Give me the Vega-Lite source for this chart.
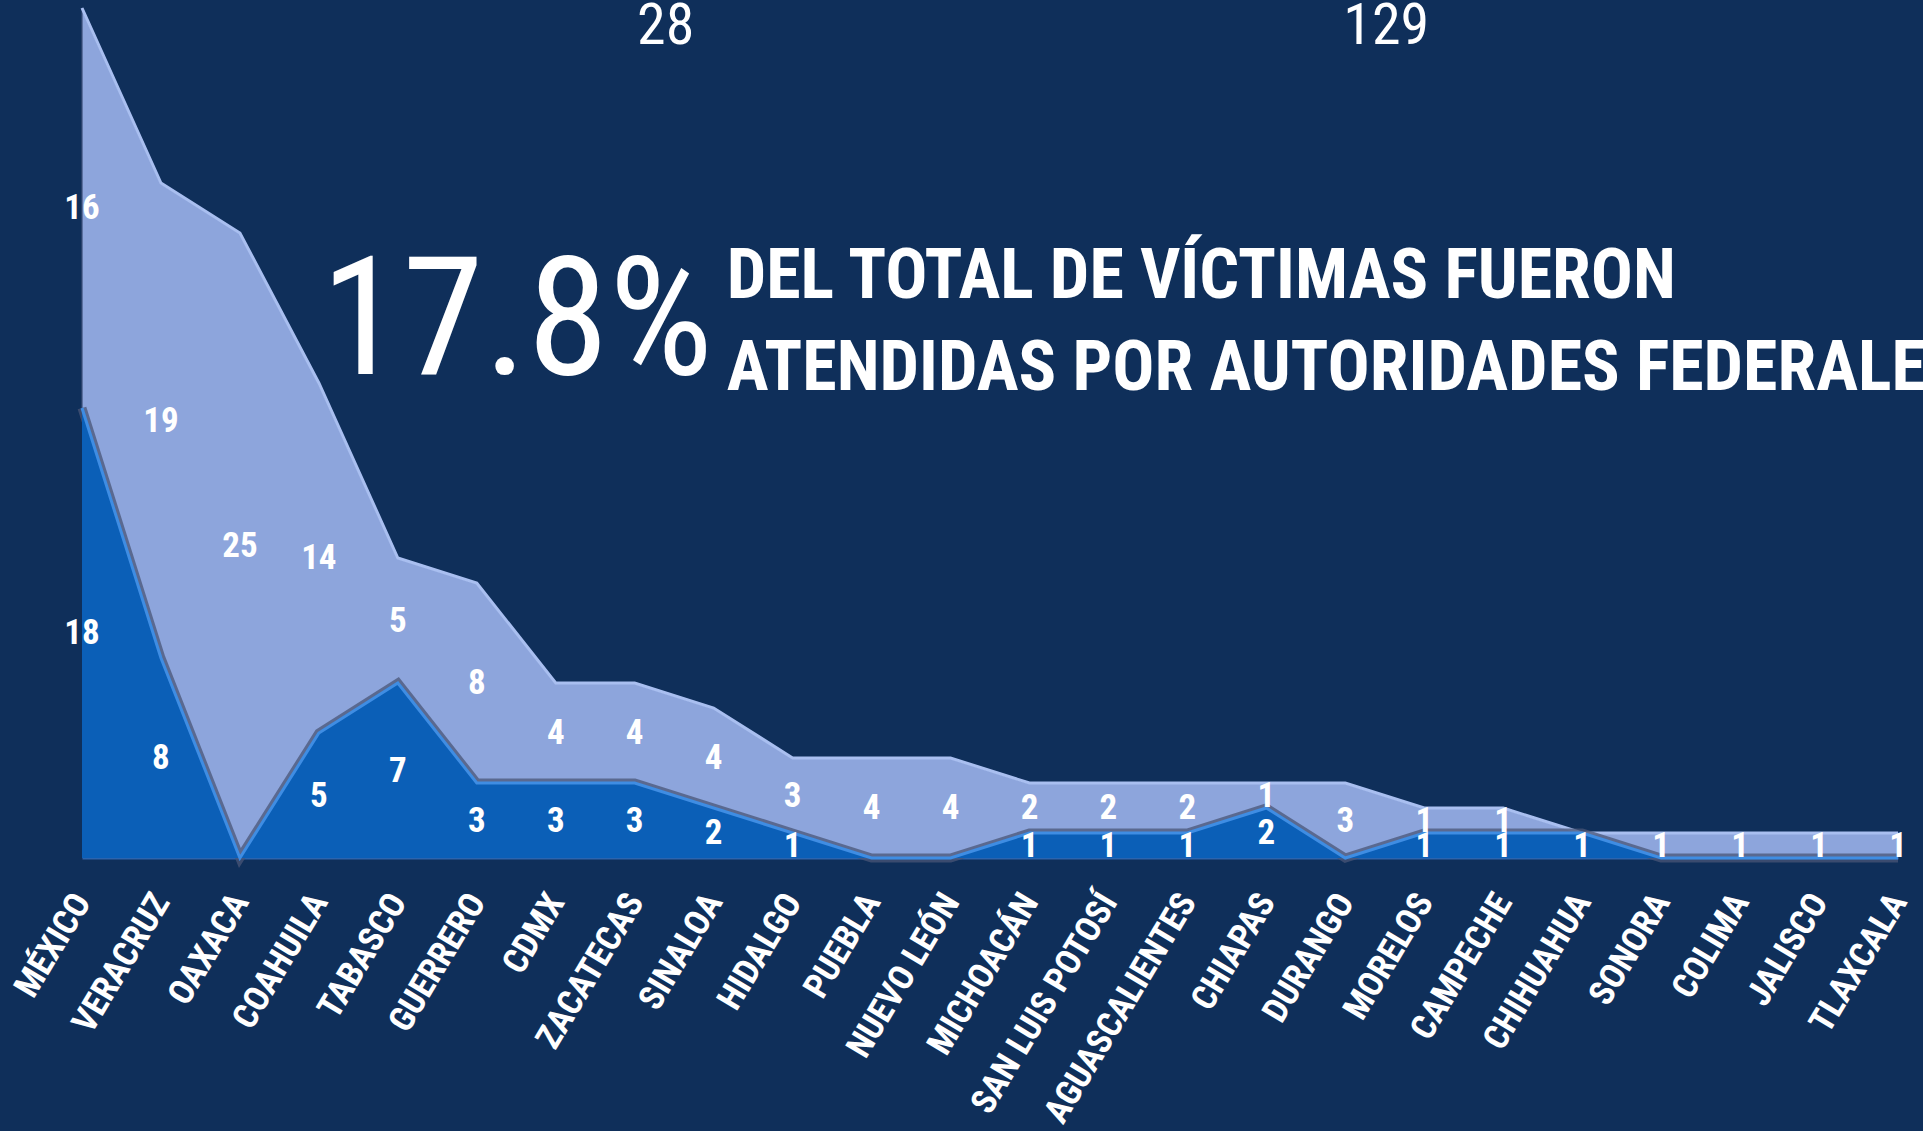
{
  "$schema": "https://vega.github.io/schema/vega-lite/v6.json",
  "width": 1816,
  "height": 850,
  "autosize": {"type": "none"},
  "padding": {"left": 82, "top": 8, "right": 25, "bottom": 273},
  "background": "#0F2F5A",
  "config": {"view": {"stroke": null}},
  "data": {
    "values": [
      {"estado": "MÉXICO", "serie": "Serie1", "valor": 18},
      {"estado": "VERACRUZ", "serie": "Serie1", "valor": 8},
      {"estado": "OAXACA", "serie": "Serie1", "valor": 0},
      {"estado": "COAHUILA", "serie": "Serie1", "valor": 5},
      {"estado": "TABASCO", "serie": "Serie1", "valor": 7},
      {"estado": "GUERRERO", "serie": "Serie1", "valor": 3},
      {"estado": "CDMX", "serie": "Serie1", "valor": 3},
      {"estado": "ZACATECAS", "serie": "Serie1", "valor": 3},
      {"estado": "SINALOA", "serie": "Serie1", "valor": 2},
      {"estado": "HIDALGO", "serie": "Serie1", "valor": 1},
      {"estado": "PUEBLA", "serie": "Serie1", "valor": 0},
      {"estado": "NUEVO LEÓN", "serie": "Serie1", "valor": 0},
      {"estado": "MICHOACÁN", "serie": "Serie1", "valor": 1},
      {"estado": "SAN LUIS POTOSÍ", "serie": "Serie1", "valor": 1},
      {"estado": "AGUASCALIENTES", "serie": "Serie1", "valor": 1},
      {"estado": "CHIAPAS", "serie": "Serie1", "valor": 2},
      {"estado": "DURANGO", "serie": "Serie1", "valor": 0},
      {"estado": "MORELOS", "serie": "Serie1", "valor": 1},
      {"estado": "CAMPECHE", "serie": "Serie1", "valor": 1},
      {"estado": "CHIHUAHUA", "serie": "Serie1", "valor": 1},
      {"estado": "SONORA", "serie": "Serie1", "valor": 0},
      {"estado": "COLIMA", "serie": "Serie1", "valor": 0},
      {"estado": "JALISCO", "serie": "Serie1", "valor": 0},
      {"estado": "TLAXCALA", "serie": "Serie1", "valor": 0},
      {"estado": "MÉXICO", "serie": "Serie2", "valor": 16},
      {"estado": "VERACRUZ", "serie": "Serie2", "valor": 19},
      {"estado": "OAXACA", "serie": "Serie2", "valor": 25},
      {"estado": "COAHUILA", "serie": "Serie2", "valor": 14},
      {"estado": "TABASCO", "serie": "Serie2", "valor": 5},
      {"estado": "GUERRERO", "serie": "Serie2", "valor": 8},
      {"estado": "CDMX", "serie": "Serie2", "valor": 4},
      {"estado": "ZACATECAS", "serie": "Serie2", "valor": 4},
      {"estado": "SINALOA", "serie": "Serie2", "valor": 4},
      {"estado": "HIDALGO", "serie": "Serie2", "valor": 3},
      {"estado": "PUEBLA", "serie": "Serie2", "valor": 4},
      {"estado": "NUEVO LEÓN", "serie": "Serie2", "valor": 4},
      {"estado": "MICHOACÁN", "serie": "Serie2", "valor": 2},
      {"estado": "SAN LUIS POTOSÍ", "serie": "Serie2", "valor": 2},
      {"estado": "AGUASCALIENTES", "serie": "Serie2", "valor": 2},
      {"estado": "CHIAPAS", "serie": "Serie2", "valor": 1},
      {"estado": "DURANGO", "serie": "Serie2", "valor": 3},
      {"estado": "MORELOS", "serie": "Serie2", "valor": 1},
      {"estado": "CAMPECHE", "serie": "Serie2", "valor": 1},
      {"estado": "CHIHUAHUA", "serie": "Serie2", "valor": 0},
      {"estado": "SONORA", "serie": "Serie2", "valor": 1},
      {"estado": "COLIMA", "serie": "Serie2", "valor": 1},
      {"estado": "JALISCO", "serie": "Serie2", "valor": 1},
      {"estado": "TLAXCALA", "serie": "Serie2", "valor": 1}
    ]
  },
  "layer": [
    {
      "transform": [
        {"stack": "valor", "groupby": ["estado"], "sort": [{"field": "serie", "order": "ascending"}], "as": ["y0", "y1"]},
        {"filter": "datum.serie === 'Serie2'"}
      ],
      "mark": {"type": "area", "interpolate": "linear", "color": "#8DA5DC", "stroke": "#3B4F78", "strokeWidth": 2, "strokeOpacity": 0.6},
      "encoding": {
        "x": {
          "field": "estado", "type": "nominal",
          "scale": {"type": "point", "padding": 0, "domain": ["MÉXICO", "VERACRUZ", "OAXACA", "COAHUILA", "TABASCO", "GUERRERO", "CDMX", "ZACATECAS", "SINALOA", "HIDALGO", "PUEBLA", "NUEVO LEÓN", "MICHOACÁN", "SAN LUIS POTOSÍ", "AGUASCALIENTES", "CHIAPAS", "DURANGO", "MORELOS", "CAMPECHE", "CHIHUAHUA", "SONORA", "COLIMA", "JALISCO", "TLAXCALA"]},
          "axis": {
            "title": null, "labelAngle": -59, "labelAlign": "right", "labelBaseline": "middle",
            "labelFontSize": 35, "labelFontWeight": "bold", "labelColor": "#FFFFFF",
            "labelFont": "Liberation Sans Narrow, Arial Narrow, Roboto Condensed, Open Sans Condensed, Noto Sans Condensed, DejaVu Sans Condensed, sans-serif",
            "labelPadding": 38, "labelLimit": 0, "ticks": false, "domain": true, "domainColor": "#2C64AE", "domainWidth": 2,
            "grid": false, "labelOverlap": false, "labelBound": false, "labelFlush": false
          }
        },
        "y": {"field": "y1", "type": "quantitative", "scale": {"domain": [0, 34], "nice": false, "zero": true}, "axis": null},
        "y2": {"field": "y0"}
      }
    },
    {
      "transform": [
        {"stack": "valor", "groupby": ["estado"], "sort": [{"field": "serie", "order": "ascending"}], "as": ["y0", "y1"]},
        {"filter": "datum.serie === 'Serie2'"}
      ],
      "mark": {"type": "line", "interpolate": "linear", "color": "#A9BFF0", "strokeWidth": 3},
      "encoding": {
        "x": {"field": "estado", "type": "nominal"},
        "y": {"field": "y1", "type": "quantitative"}
      }
    },
    {
      "transform": [
        {"stack": "valor", "groupby": ["estado"], "sort": [{"field": "serie", "order": "ascending"}], "as": ["y0", "y1"]},
        {"filter": "datum.serie === 'Serie1'"}
      ],
      "mark": {"type": "line", "interpolate": "linear", "color": "#4A5677", "strokeWidth": 9, "opacity": 0.75},
      "encoding": {
        "x": {"field": "estado", "type": "nominal"},
        "y": {"field": "y1", "type": "quantitative"}
      }
    },
    {
      "transform": [
        {"stack": "valor", "groupby": ["estado"], "sort": [{"field": "serie", "order": "ascending"}], "as": ["y0", "y1"]},
        {"filter": "datum.serie === 'Serie1'"}
      ],
      "mark": {"type": "area", "interpolate": "linear", "color": "#0B5FB7"},
      "encoding": {
        "x": {"field": "estado", "type": "nominal"},
        "y": {"field": "y1", "type": "quantitative"},
        "y2": {"field": "y0"}
      }
    },
    {
      "transform": [
        {"stack": "valor", "groupby": ["estado"], "sort": [{"field": "serie", "order": "ascending"}], "as": ["y0", "y1"]},
        {"filter": "datum.serie === 'Serie1'"}
      ],
      "mark": {"type": "line", "interpolate": "linear", "color": "#3F8DE3", "strokeWidth": 3},
      "encoding": {
        "x": {"field": "estado", "type": "nominal"},
        "y": {"field": "y1", "type": "quantitative"}
      }
    },
    {
      "transform": [
        {"stack": "valor", "groupby": ["estado"], "sort": [{"field": "serie", "order": "ascending"}], "as": ["y0", "y1"]},
        {"filter": "datum.valor > 0"},
        {"calculate": "(datum.y0 + datum.y1) / 2", "as": "medio"}
      ],
      "mark": {"type": "text", "color": "#FFFFFF", "fontSize": 35, "fontWeight": "bold", "font": "Liberation Sans Narrow, Arial Narrow, Roboto Condensed, Open Sans Condensed, Noto Sans Condensed, DejaVu Sans Condensed, sans-serif", "baseline": "middle", "align": "center"},
      "encoding": {
        "x": {"field": "estado", "type": "nominal"},
        "y": {"field": "medio", "type": "quantitative"},
        "text": {"field": "valor", "type": "quantitative"}
      }
    },
    {
      "data": {"values": [{"texto": "17.8%"}]},
      "mark": {"type": "text", "color": "#FFFFFF", "fontSize": 165, "font": "Liberation Sans Narrow, Arial Narrow, Roboto Condensed, Open Sans Condensed, Noto Sans Condensed, DejaVu Sans Condensed, sans-serif", "align": "left", "baseline": "alphabetic", "dx": 2},
      "encoding": {
        "x": {"datum": "COAHUILA"},
        "y": {"datum": 19.36},
        "text": {"field": "texto", "type": "nominal"}
      }
    },
    {
      "data": {"values": [{"texto": "DEL TOTAL DE VÍCTIMAS FUERON"}]},
      "mark": {"type": "text", "color": "#FFFFFF", "fontSize": 70, "fontWeight": "bold", "font": "Liberation Sans Narrow, Arial Narrow, Roboto Condensed, Open Sans Condensed, Noto Sans Condensed, DejaVu Sans Condensed, sans-serif", "align": "left", "baseline": "alphabetic", "dx": 13},
      "encoding": {
        "x": {"datum": "SINALOA"},
        "y": {"datum": 22.4},
        "text": {"field": "texto", "type": "nominal"}
      }
    },
    {
      "data": {"values": [{"texto": "ATENDIDAS POR AUTORIDADES FEDERALES"}]},
      "mark": {"type": "text", "color": "#FFFFFF", "fontSize": 70, "fontWeight": "bold", "font": "Liberation Sans Narrow, Arial Narrow, Roboto Condensed, Open Sans Condensed, Noto Sans Condensed, DejaVu Sans Condensed, sans-serif", "align": "left", "baseline": "alphabetic", "dx": 13},
      "encoding": {
        "x": {"datum": "SINALOA"},
        "y": {"datum": 18.72},
        "text": {"field": "texto", "type": "nominal"}
      }
    },
    {
      "data": {"values": [{"texto": "28"}]},
      "mark": {"type": "text", "color": "#FFFFFF", "fontSize": 58, "font": "Liberation Sans Narrow, Arial Narrow, Roboto Condensed, Open Sans Condensed, Noto Sans Condensed, DejaVu Sans Condensed, sans-serif", "align": "center", "baseline": "alphabetic", "dx": 31},
      "encoding": {
        "x": {"datum": "ZACATECAS"},
        "y": {"datum": 32.56},
        "text": {"field": "texto", "type": "nominal"}
      }
    },
    {
      "data": {"values": [{"texto": "129"}]},
      "mark": {"type": "text", "color": "#FFFFFF", "fontSize": 58, "font": "Liberation Sans Narrow, Arial Narrow, Roboto Condensed, Open Sans Condensed, Noto Sans Condensed, DejaVu Sans Condensed, sans-serif", "align": "center", "baseline": "alphabetic", "dx": 41},
      "encoding": {
        "x": {"datum": "DURANGO"},
        "y": {"datum": 32.56},
        "text": {"field": "texto", "type": "nominal"}
      }
    }
  ]
}
